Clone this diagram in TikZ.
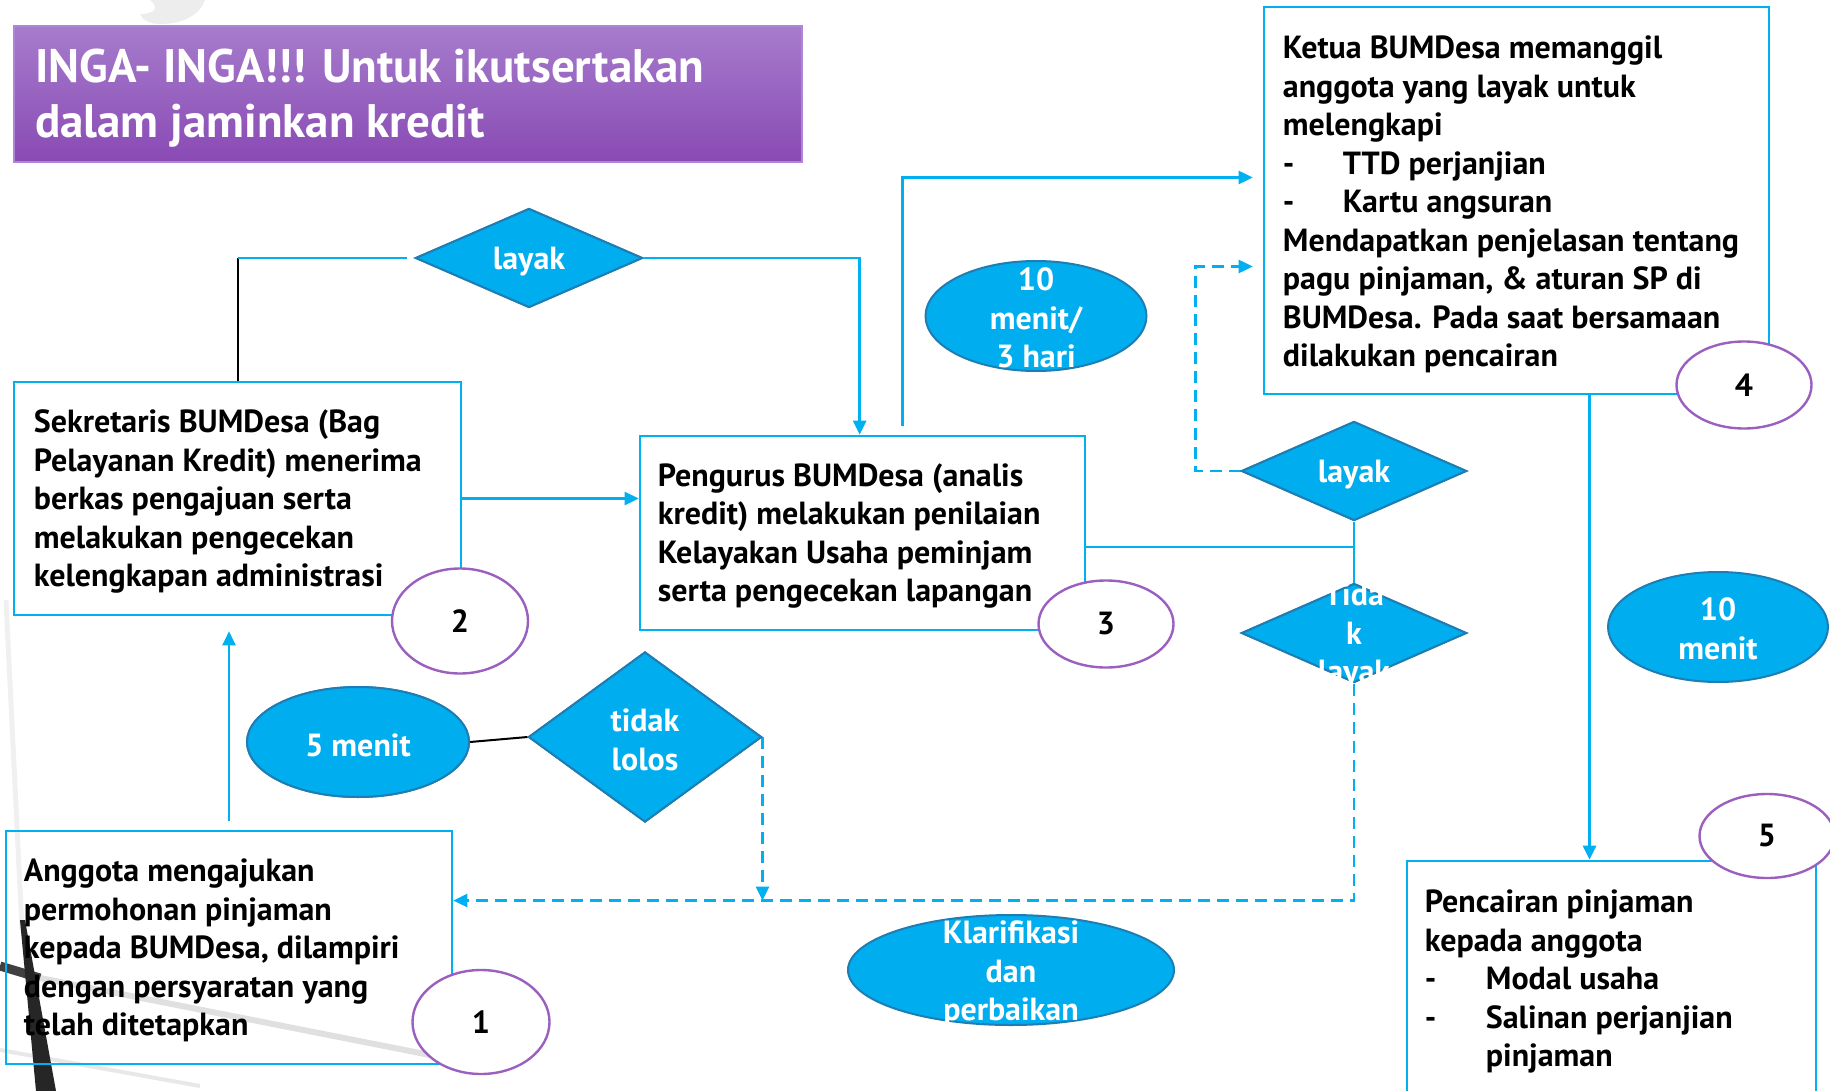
\documentclass[tikz,border=0pt]{standalone}
\usepackage{fontspec}
\setmainfont{PT Sans}
\usetikzlibrary{shapes.geometric,arrows.meta,calc}
\definecolor{lineblue}{RGB}{0,176,240}
\definecolor{shapefill}{RGB}{0,174,239}
\definecolor{shapeedge}{RGB}{30,125,178}
\definecolor{ringpurple}{RGB}{155,95,192}
\definecolor{titletop}{RGB}{166,124,204}
\definecolor{titlebot}{RGB}{137,74,180}
\definecolor{titleedge}{RGB}{176,132,214}
\newcommand\boxfont{\bfseries\fontsize{32}{38.5}\selectfont}
\newcommand\shapefont{\bfseries\fontsize{32}{38.5}\selectfont}
\newcommand\titlefont{\bfseries\fontsize{47}{55}\selectfont}

\begin{document}
\begin{tikzpicture}[x=1pt,y=-1pt,
  conn/.style={draw=lineblue,line width=2.6pt},
  arr/.style={conn,-{Triangle[length=14pt,width=13pt]}},
  dasharr/.style={arr,dash pattern=on 12pt off 7pt},
  stepbox/.style={rectangle,draw=lineblue,line width=2.6pt,inner sep=0pt},
  boxtext/.style={anchor=west,align=left,inner sep=0pt,font=\boxfont,text=black},
  blob/.style={ellipse,fill=shapefill,draw=shapeedge,line width=2pt,inner sep=0pt},
  gate/.style={diamond,fill=shapefill,draw=shapeedge,line width=2pt,inner sep=0pt},
  shapetext/.style={align=center,inner sep=0pt,font=\shapefont,text=white},
  ring/.style={ellipse,fill=white,draw=ringpurple,line width=2.4pt,inner sep=0pt,font=\bfseries\fontsize{32}{38}\selectfont},
]
\useasboundingbox (0,0) rectangle (1830,1091);

% faint backdrop strokes
\fill[black!7] (150,0) -- (205,0) .. controls (200,14) and (185,24) .. (160,24) .. controls (150,24) and (142,20) .. (140,14) .. controls (155,14) and (160,8) .. (150,0) -- cycle;
\draw[black!6,line width=5pt] (6,600) -- (22,930);
\draw[black!12,line width=6pt] (40,978) -- (430,1055);
\draw[black!9,line width=4pt] (0,1050) -- (200,1086);
\draw[black!75,line width=9pt] (0,966) -- (40,978);
\fill[black!85] (20,920) -- (25,920) -- (56,1091) -- (36,1091) -- cycle;

% title banner
\node[rectangle,top color=titletop,bottom color=titlebot,draw=titleedge,line width=2pt,
      minimum width=788,minimum height=136,inner sep=0pt] (title) at (408,94) {};
\node[anchor=west,align=left,inner sep=0pt,font=\titlefont,text=white] (titletxt) at (35,98)
  {INGA- INGA!!! Untuk ikutsertakan\\dalam jaminkan kredit};

% process boxes
\node[stepbox,minimum width=447,minimum height=233] (b2) at (237.5,498.5) {};
\node[stepbox,minimum width=445,minimum height=194] (b3) at (862.5,533) {};
\node[stepbox,minimum width=505,minimum height=387] (b4) at (1516.5,200.5) {};
\node[stepbox,minimum width=446,minimum height=233] (b1) at (229,947.5) {};
\node[stepbox,minimum width=409,minimum height=239] (b5) at (1611.5,980.5) {};

% decisions and durations
\node[gate,minimum width=227,minimum height=99] (dl) at (529,258) {};
\node[gate,minimum width=233,minimum height=170] (dtl) at (645,737) {};
\node[gate,minimum width=225,minimum height=99] (dr) at (1354,471) {};
\node[gate,minimum width=225,minimum height=99] (dt) at (1354,633) {};
\node[blob,minimum width=222,minimum height=110] (e5) at (358,742) {};
\node[blob,minimum width=221,minimum height=110] (e10a) at (1036,316) {};
\node[blob,minimum width=220,minimum height=110] (e10b) at (1718,627) {};
\node[blob,minimum width=326,minimum height=110] (ek) at (1011,970) {};

% connectors
\draw[arr,shorten <=9pt,shorten >=15pt] (b1.north) -- (b1.north |- b2.south);
\draw[arr] (b2.east) -- (b2.east -| b3.west);
\draw[black,line width=2pt] (b2.north) -- (b2.north |- dl.west);
\draw[conn,shorten >=8pt] (b2.north |- dl.west) -- (dl.west);
\coordinate (b3in) at ($(b3.north west)+(221,0)$);
\draw[arr] (dl.east) -| (b3in);
\coordinate (b3out) at ($(b3.north west)+(264,-9)$);
\coordinate (b4in) at ($(b4.west)+(0,-23)$);
\draw[arr,shorten >=10pt] (b3out) |- (b4in);
\coordinate (b3side) at ($(b3.east)+(0,14)$);
\draw[conn] (b3side) -- (b3side -| dr.south);
\draw[conn] (dr.south) -- (dt.north);
\coordinate (b4low) at ($(b4.west)+(0,66)$);
\coordinate (drbend) at ($(dr.west)+(-45,0)$);
\draw[dasharr,shorten >=10pt] (dr.west) -- (drbend) |- (b4low);
\coordinate (b1back) at ($(b1.east)+(0,-47)$);
\draw[dasharr] (dt.south) |- (b1back);
\draw[dasharr] (dtl.east) -- (dtl.east |- b1back);
\draw[black,line width=2pt] (e5.east) -- (dtl.west);
\coordinate (b4down) at ($(b4.south)+(73,0)$);
\draw[arr] (b4down) -- (b4down |- b5.north);

% redraw shapes over line ends
\node[gate,minimum width=227,minimum height=99] at (dl) {};
\node[gate,minimum width=233,minimum height=170] at (dtl) {};
\node[gate,minimum width=225,minimum height=99] at (dr) {};
\node[gate,minimum width=225,minimum height=99] at (dt) {};
\node[blob,minimum width=222,minimum height=110] at (e5) {};

% box texts
\node[boxtext] (t2) at ($(b2.west)+(21,3)$) {Sekretaris BUMDesa (Bag\\Pelayanan Kredit) menerima\\berkas pengajuan serta\\melakukan pengecekan\\kelengkapan administrasi};
\node[boxtext] (t3) at ($(b3.west)+(19,3)$) {Pengurus BUMDesa (analis\\kredit) melakukan penilaian\\Kelayakan Usaha peminjam\\serta pengecekan lapangan};
\node[boxtext] (t4) at ($(b4.west)+(20,4)$) {Ketua BUMDesa memanggil\\anggota yang layak untuk\\melengkapi\\\makebox[60pt][l]{-}TTD perjanjian\\\makebox[60pt][l]{-}Kartu angsuran\\Mendapatkan penjelasan tentang\\pagu pinjaman, \& aturan SP di\\BUMDesa. Pada saat bersamaan\\dilakukan pencairan};
\node[boxtext] (t1) at ($(b1.west)+(19,3)$) {Anggota mengajukan\\permohonan pinjaman\\kepada BUMDesa, dilampiri\\dengan persyaratan yang\\telah ditetapkan};
\node[boxtext] (t5) at ($(b5.west)+(19,1)$) {Pencairan pinjaman\\kepada anggota\\\makebox[61pt][l]{-}Modal usaha\\\makebox[61pt][l]{-}Salinan perjanjian\\\hspace*{61pt}pinjaman};

% shape labels
\node[shapetext] at ($(dl)+(0,4)$) {layak};
\node[shapetext] at ($(dtl)+(0,3)$) {tidak\\lolos};
\node[shapetext] at ($(dr)+(0,4)$) {layak};
\node[shapetext] at ($(dt)+(0,3)$) {Tida\\k\\layak};
\node[shapetext] at ($(e5)+(0,3)$) {5 menit};
\node[shapetext] at ($(e10a)+(0,2)$) {10\\menit/\\3 hari};
\node[shapetext] at ($(e10b)+(0,2)$) {10\\menit};
\node[shapetext] at ($(ek)+(0,4)$) {Klarifikasi\\dan\\perbaikan};

% step numbers
\node[ring,minimum width=137,minimum height=104] (c1) at (481,1022) {1};
\node[ring,minimum width=136,minimum height=105] (c2) at (460,621) {2};
\node[ring,minimum width=135,minimum height=87] (c3) at (1106,624) {3};
\node[ring,minimum width=135,minimum height=87] (c4) at (1744,385) {4};
\node[ring,minimum width=135,minimum height=84] (c5) at (1767,836) {5};
\end{tikzpicture}
\end{document}
